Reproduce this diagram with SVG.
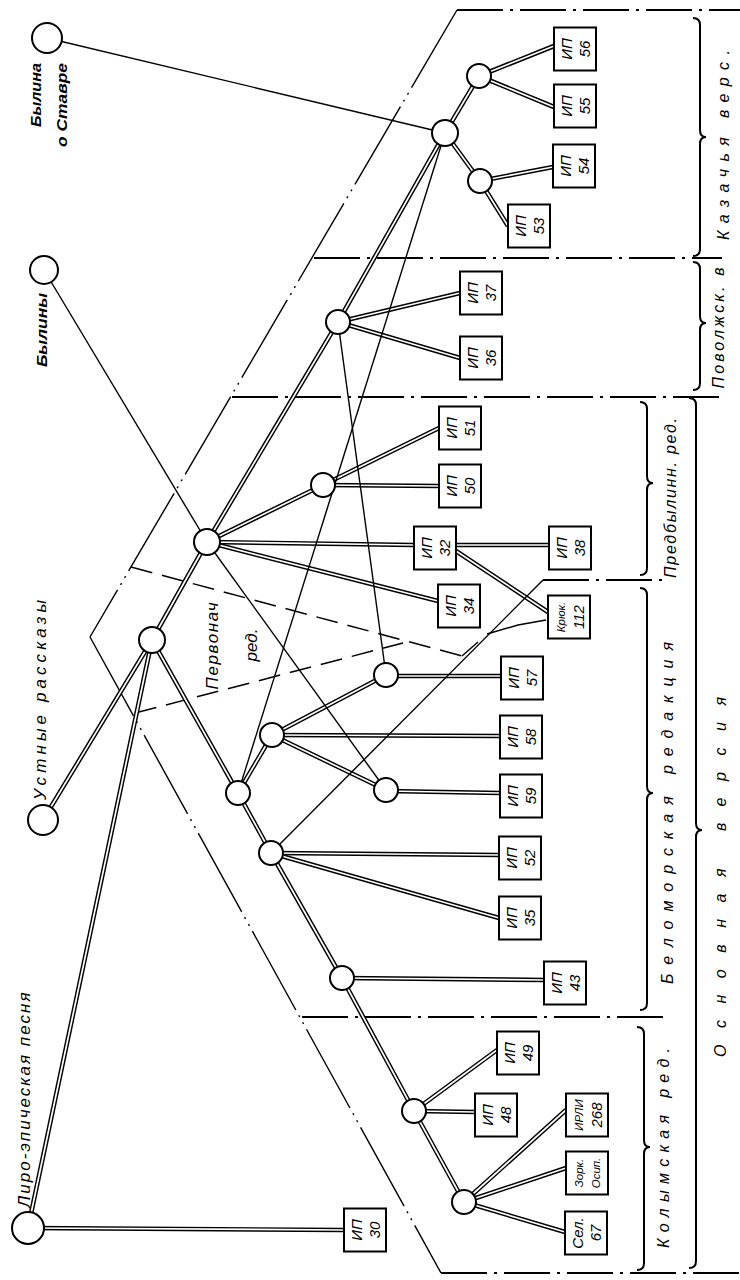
<svg xmlns="http://www.w3.org/2000/svg" width="740" height="1280" viewBox="0 0 740 1280">
<style>
.nd{fill:#fff;stroke:#000;stroke-width:2}
.bx{fill:#fff;stroke:#000;stroke-width:2}
.dbo{fill:none;stroke:#000;stroke-width:4.6}
.dbi{fill:none;stroke:#fff;stroke-width:1.7}
.thin{fill:none;stroke:#000;stroke-width:1.4}
.sep{fill:none;stroke:#000;stroke-width:2.2;stroke-dasharray:46 7 3 7}
.dia{fill:none;stroke:#000;stroke-width:1.4;stroke-dasharray:90 6 2 6 2 6}
.dsh{fill:none;stroke:#000;stroke-width:1.5;stroke-dasharray:22 10}
.brace{fill:none;stroke:#000;stroke-width:2}
text{font-family:"Liberation Sans","DejaVu Sans",sans-serif;font-style:italic;fill:#000;dominant-baseline:central;text-anchor:middle}
.bt{font-size:15px}
.bs{font-size:11.5px}
.lb{font-size:15px;font-weight:bold}
.lt{font-size:17px}
.sec{font-size:16px}
</style>
<rect width="740" height="1280" fill="#fff"/>

<g id="regions">
<path class="sep" d="M457,10 H740"/>
<path class="dia" d="M457,10 L90,637"/>
<path class="dia" d="M90,637 L441,1273"/>
<path class="sep" d="M441,1273 H740"/>
<path class="sep" d="M314,258 H722"/>
<path class="sep" d="M232,397 H722"/>
<path class="sep" d="M543,580 H668"/>
<path class="sep" d="M302,1017 H670"/>
<path class="dsh" d="M131,567 L462,656"/>
<path class="thin" d="M462,656 L478,642 M487,634 L518,625 L546,620"/>
<path class="dsh" d="M135,713 L403,643"/>
<path class="brace" d="M693,18 Q700,18 700,25 V130 Q700,137 706,137 Q700,137 700,144 V249 Q700,256 693,256"/>
<path class="brace" d="M693,262 Q700,262 700,269 V316 Q700,323 706,323 Q700,323 700,330 V383 Q700,390 693,390"/>
<path class="brace" d="M640,402 Q647,402 647,409 V476 Q647,483 653,483 Q647,483 647,490 V568 Q647,575 640,575"/>
<path class="brace" d="M640,588 Q647,588 647,595 V786 Q647,793 653,793 Q647,793 647,800 V1003 Q647,1010 640,1010"/>
<path class="brace" d="M637,1027 Q644,1027 644,1034 V1140 Q644,1147 650,1147 Q644,1147 644,1154 V1263 Q644,1270 637,1270"/>
<path class="brace" d="M689,398 Q696,398 696,405 V823 Q696,830 702,830 Q696,830 696,837 V1261 Q696,1268 689,1268"/>
<text class="sec" transform="translate(723,145) rotate(-90)" textLength="190" lengthAdjust="spacing">Казачья верс.</text>
<text class="sec" transform="translate(718,328) rotate(-90)" textLength="121" lengthAdjust="spacing">Поволжск. в</text>
<text class="sec" transform="translate(670,498) rotate(-90)" textLength="160" lengthAdjust="spacing">Предбылинн. ред.</text>
<text class="sec" transform="translate(667,813) rotate(-90)" textLength="342" lengthAdjust="spacing">Беломорская редакция</text>
<text class="sec" transform="translate(720,877) rotate(-90)" textLength="360" lengthAdjust="spacing">Основная версия</text>
<text class="sec" transform="translate(663,1148) rotate(-90)" textLength="200" lengthAdjust="spacing">Колымская ред.</text>
<text class="lt" transform="translate(212,646) rotate(-90)" textLength="87" lengthAdjust="spacing">Первонач</text>
<text class="lt" transform="translate(251,645) rotate(-90)">ред.</text>
</g>

<defs>
<g id="dbl-edges">
<path d="M445,133 L479,76"/>
<path d="M445,133 L480,181"/>
<path d="M479,76 L554,46"/>
<path d="M479,76 L554,107"/>
<path d="M480,181 L553,167"/>
<path d="M480,181 L508,226"/>
<path d="M338,322 L445,133"/>
<path d="M207,542 L338,322"/>
<path d="M152,640 L207,542"/>
<path d="M338,322 L460,293"/>
<path d="M338,322 L460,358"/>
<path d="M207,542 L323,485"/>
<path d="M323,485 L439,428"/>
<path d="M323,485 L439,486"/>
<path d="M207,542 L414,545"/>
<path d="M456,545 L549,545"/>
<path d="M456,551 L548,612"/>
<path d="M207,542 L438,601"/>
<path d="M43,820 L152,640"/>
<path d="M28,1228 L152,640"/>
<path d="M28,1228 L344,1230"/>
<path d="M152,640 L238,793"/>
<path d="M238,793 L272,735"/>
<path d="M272,735 L386,675"/>
<path d="M386,676 L501,676"/>
<path d="M272,735 L500,736"/>
<path d="M272,735 L386,790"/>
<path d="M386,791 L500,793"/>
<path d="M238,793 L271,853"/>
<path d="M271,853 L499,855"/>
<path d="M271,853 L499,918"/>
<path d="M271,853 L342,978"/>
<path d="M342,978 L544,980"/>
<path d="M342,978 L414,1111"/>
<path d="M414,1111 L475,1112"/>
<path d="M414,1111 L497,1050"/>
<path d="M414,1111 L464,1202"/>
<path d="M464,1202 L566,1110"/>
<path d="M464,1202 L566,1168"/>
<path d="M464,1202 L565,1232"/>
</g>
</defs>

<g id="connectors">
<g class="dbo"><use href="#dbl-edges"/></g>
<use href="#dbl-edges" class="dbi"/>
<g class="thin">
<path d="M47,38 L445,133"/>
<path d="M44,270 L207,542"/>
<path d="M207,542 L386,790"/>
<path d="M445,133 L238,793"/>
<path d="M338,322 L386,675"/>
<path d="M543,580 L271,853"/>
</g>
</g>

<g id="src-stavr"><circle class="nd" cx="47" cy="38" r="15"/>
<text class="lb" transform="translate(35,95) rotate(-90)" textLength="64" lengthAdjust="spacingAndGlyphs">Былина</text>
<text class="lb" transform="translate(61,105) rotate(-90)" textLength="84" lengthAdjust="spacingAndGlyphs">о Ставре</text></g>
<g id="src-byliny"><circle class="nd" cx="44" cy="270" r="14"/>
<text class="lb" transform="translate(41,330) rotate(-90)" textLength="74" lengthAdjust="spacingAndGlyphs">Былины</text></g>
<g id="src-ustnye"><circle class="nd" cx="43" cy="820" r="15"/>
<text class="lt" transform="translate(40,700) rotate(-90)" textLength="200" lengthAdjust="spacing">Устные рассказы</text></g>
<g id="src-liro"><circle class="nd" cx="28" cy="1228" r="16"/>
<text class="lt" transform="translate(24,1100) rotate(-90)" textLength="215" lengthAdjust="spacing">Лиро-эпическая песня</text></g>

<g id="n1"><circle class="nd" cx="445" cy="133" r="13"/></g>
<g id="n2"><circle class="nd" cx="479" cy="76" r="12"/></g>
<g id="n3"><circle class="nd" cx="480" cy="181" r="12"/></g>
<g id="n4"><circle class="nd" cx="338" cy="322" r="12"/></g>
<g id="n5"><circle class="nd" cx="207" cy="542" r="13"/></g>
<g id="n6"><circle class="nd" cx="323" cy="485" r="12"/></g>
<g id="n7"><circle class="nd" cx="152" cy="640" r="13"/></g>
<g id="n8"><circle class="nd" cx="386" cy="675" r="12"/></g>
<g id="n9"><circle class="nd" cx="272" cy="735" r="12"/></g>
<g id="n10"><circle class="nd" cx="386" cy="790" r="12"/></g>
<g id="n11"><circle class="nd" cx="238" cy="793" r="12"/></g>
<g id="n12"><circle class="nd" cx="271" cy="853" r="12"/></g>
<g id="n13"><circle class="nd" cx="342" cy="978" r="12"/></g>
<g id="n14"><circle class="nd" cx="414" cy="1111" r="12"/></g>
<g id="n15"><circle class="nd" cx="464" cy="1202" r="12"/></g>

<g id="ip56"><rect class="bx" x="554" y="27.5" width="42" height="43"/><text class="bt" transform="translate(566,49) rotate(-90)">ИП</text><text class="bt" transform="translate(584,49) rotate(-90)">56</text></g>
<g id="ip55"><rect class="bx" x="554" y="84.5" width="42" height="43"/><text class="bt" transform="translate(566,106) rotate(-90)">ИП</text><text class="bt" transform="translate(584,106) rotate(-90)">55</text></g>
<g id="ip54"><rect class="bx" x="553" y="144.5" width="42" height="43"/><text class="bt" transform="translate(565,166) rotate(-90)">ИП</text><text class="bt" transform="translate(583,166) rotate(-90)">54</text></g>
<g id="ip53"><rect class="bx" x="508" y="204.5" width="42" height="43"/><text class="bt" transform="translate(520,226) rotate(-90)">ИП</text><text class="bt" transform="translate(538,226) rotate(-90)">53</text></g>
<g id="ip37"><rect class="bx" x="460" y="271.5" width="42" height="43"/><text class="bt" transform="translate(472,293) rotate(-90)">ИП</text><text class="bt" transform="translate(490,293) rotate(-90)">37</text></g>
<g id="ip36"><rect class="bx" x="460" y="336.5" width="42" height="43"/><text class="bt" transform="translate(472,358) rotate(-90)">ИП</text><text class="bt" transform="translate(490,358) rotate(-90)">36</text></g>
<g id="ip51"><rect class="bx" x="439" y="406.5" width="42" height="43"/><text class="bt" transform="translate(451,428) rotate(-90)">ИП</text><text class="bt" transform="translate(469,428) rotate(-90)">51</text></g>
<g id="ip50"><rect class="bx" x="439" y="464.5" width="42" height="43"/><text class="bt" transform="translate(451,486) rotate(-90)">ИП</text><text class="bt" transform="translate(469,486) rotate(-90)">50</text></g>
<g id="ip32"><rect class="bx" x="414" y="526.5" width="42" height="43"/><text class="bt" transform="translate(426,548) rotate(-90)">ИП</text><text class="bt" transform="translate(444,548) rotate(-90)">32</text></g>
<g id="ip38"><rect class="bx" x="549" y="526.5" width="42" height="43"/><text class="bt" transform="translate(561,548) rotate(-90)">ИП</text><text class="bt" transform="translate(579,548) rotate(-90)">38</text></g>
<g id="ip34"><rect class="bx" x="438" y="584.5" width="42" height="43"/><text class="bt" transform="translate(450,606) rotate(-90)">ИП</text><text class="bt" transform="translate(468,606) rotate(-90)">34</text></g>
<g id="kryuk112"><rect class="bx" x="548" y="595.5" width="42" height="43"/><text class="bs" transform="translate(561,617) rotate(-90)">Крюк.</text><text class="bt" transform="translate(578,617) rotate(-90)">112</text></g>
<g id="ip57"><rect class="bx" x="501" y="656.5" width="42" height="43"/><text class="bt" transform="translate(513,678) rotate(-90)">ИП</text><text class="bt" transform="translate(531,678) rotate(-90)">57</text></g>
<g id="ip58"><rect class="bx" x="500" y="715.5" width="42" height="43"/><text class="bt" transform="translate(512,737) rotate(-90)">ИП</text><text class="bt" transform="translate(530,737) rotate(-90)">58</text></g>
<g id="ip59"><rect class="bx" x="500" y="774.5" width="42" height="43"/><text class="bt" transform="translate(512,796) rotate(-90)">ИП</text><text class="bt" transform="translate(530,796) rotate(-90)">59</text></g>
<g id="ip52"><rect class="bx" x="499" y="836.5" width="42" height="43"/><text class="bt" transform="translate(511,858) rotate(-90)">ИП</text><text class="bt" transform="translate(529,858) rotate(-90)">52</text></g>
<g id="ip35"><rect class="bx" x="499" y="896.5" width="42" height="43"/><text class="bt" transform="translate(511,918) rotate(-90)">ИП</text><text class="bt" transform="translate(529,918) rotate(-90)">35</text></g>
<g id="ip43"><rect class="bx" x="544" y="961.5" width="42" height="43"/><text class="bt" transform="translate(556,983) rotate(-90)">ИП</text><text class="bt" transform="translate(574,983) rotate(-90)">43</text></g>
<g id="ip49"><rect class="bx" x="497" y="1031.5" width="42" height="43"/><text class="bt" transform="translate(509,1053) rotate(-90)">ИП</text><text class="bt" transform="translate(527,1053) rotate(-90)">49</text></g>
<g id="ip48"><rect class="bx" x="475" y="1093.5" width="42" height="43"/><text class="bt" transform="translate(487,1115) rotate(-90)">ИП</text><text class="bt" transform="translate(505,1115) rotate(-90)">48</text></g>
<g id="irli268"><rect class="bx" x="566" y="1093.5" width="42" height="43"/><text class="bs" transform="translate(579,1115) rotate(-90)">ИРЛИ</text><text class="bt" transform="translate(596,1115) rotate(-90)">268</text></g>
<g id="zork"><rect class="bx" x="566" y="1151.5" width="42" height="43"/><text class="bs" transform="translate(579,1173) rotate(-90)">Зорк.</text><text class="bs" transform="translate(596,1173) rotate(-90)">Осип.</text></g>
<g id="sel67"><rect class="bx" x="565" y="1211.5" width="42" height="43"/><text class="bt" transform="translate(577,1233) rotate(-90)">Сел.</text><text class="bt" transform="translate(595,1233) rotate(-90)">67</text></g>
<g id="ip30"><rect class="bx" x="344" y="1208.5" width="42" height="43"/><text class="bt" transform="translate(356,1230) rotate(-90)">ИП</text><text class="bt" transform="translate(374,1230) rotate(-90)">30</text></g>
</svg>
